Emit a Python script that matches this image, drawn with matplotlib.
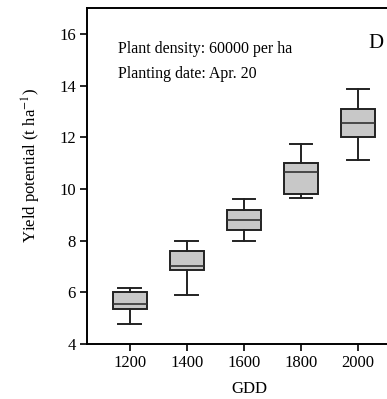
import matplotlib
matplotlib.use("Agg")
import matplotlib.pyplot as plt

# GDD classes and box statistics (yield potential, t/ha)
gdd = [1200, 1400, 1600, 1800, 2000]
whis_lo = [4.78, 5.9, 8.0, 9.65, 11.1]
q1 = [5.35, 6.85, 8.4, 9.8, 12.0]
med = [5.55, 7.0, 8.8, 10.65, 12.55]
q3 = [6.0, 7.6, 9.2, 11.0, 13.1]
whis_hi = [6.15, 8.0, 9.6, 11.75, 13.85]

plt.rcParams["font.family"] = ["Liberation Serif", "DejaVu Serif"]
plt.rcParams["mathtext.fontset"] = "stix"

fig = plt.figure(figsize=(3.87, 3.99), dpi=100)
ax = fig.add_axes([0.225, 0.138, 0.84, 0.842])

stats = [dict(whislo=lo, q1=a, med=m, q3=b, whishi=hi, fliers=[])
         for lo, a, m, b, hi in zip(whis_lo, q1, med, q3, whis_hi)]
ax.bxp(stats, positions=gdd, widths=120, capwidths=80, patch_artist=True,
       showfliers=False,
       boxprops=dict(facecolor="#c8c8c8", edgecolor="#222222", linewidth=1.4),
       medianprops=dict(color="#333333", linewidth=1.2),
       whiskerprops=dict(color="#222222", linewidth=1.4),
       capprops=dict(color="#222222", linewidth=1.4))

ax.set_xlim(1050, 2190)
ax.set_ylim(4, 17)
ax.set_xticks(gdd)
ax.set_xticklabels([str(g) for g in gdd])
ax.set_yticks([4, 6, 8, 10, 12, 14, 16])
ax.tick_params(labelsize=12, direction="out", length=5, width=1.2, pad=3)
ax.spines["right"].set_visible(False)
for s in ax.spines.values():
    s.set_linewidth(1.4)

ax.set_xlabel("GDD", fontsize=12, labelpad=7)
ax.set_ylabel("Yield potential (t ha$^{-1}$)", fontsize=12)
ax.yaxis.set_label_coords(-0.135, 0.53)

ax.text(0.095, 0.866, "Plant density: 60000 per ha", transform=ax.transAxes,
        fontsize=11.5, va="baseline")
ax.text(0.095, 0.792, "Planting date: Apr. 20", transform=ax.transAxes,
        fontsize=11.5, va="baseline")
ax.text(0.866, 0.881, "D", transform=ax.transAxes, fontsize=15, va="baseline")

fig.savefig("out.png", dpi=100)
